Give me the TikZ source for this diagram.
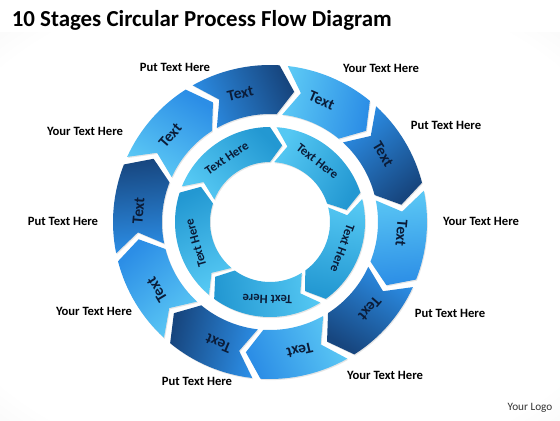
\documentclass[tikz,border=0pt]{standalone}
\usepackage{fontspec}
\setmainfont{Carlito}
\usetikzlibrary{shadows}

\definecolor{navy}{HTML}{0B1C38}
\definecolor{dblue}{HTML}{17467F}
\definecolor{mblue}{HTML}{2C8EE6}
\definecolor{lblue}{HTML}{5CC9F5}
\definecolor{cyan_a}{HTML}{2398D2}
\definecolor{cyan_b}{HTML}{55C8F3}

\pgfdeclareradialshading{back_shade}{\pgfpoint{0cm}{0cm}}{color(0bp)=(white); color(32bp)=(white); color(50bp)=(black!9); color(72bp)=(black!12)}

% one arrow piece of a ring: centre angle, half span, inner r, outer r, tip, style
\newcommand{\ringpiece}[6]{%
  \pgfmathsetmacro{\pa}{#1+#2}
  \pgfmathsetmacro{\pb}{#1-#2}
  \pgfmathsetmacro{\ptip}{#1-#2-#5}
  \pgfmathsetmacro{\pnotch}{#1+#2-#5}
  \pgfmathsetmacro{\pmid}{(#3+#4)/2}
  \pgfmathsetmacro{\pshade}{#1-170}
  \shade[#6, shading angle=\pshade] (\pa:#4) arc[start angle=\pa, end angle=\pb, radius=#4]
    -- (\ptip:\pmid) -- (\pb:#3) arc[start angle=\pb, end angle=\pa, radius=#3]
    -- (\pnotch:\pmid) -- cycle;
}

\begin{document}
\begin{tikzpicture}[
  seg_dark/.style={top color=dblue, bottom color=mblue, drop shadow={opacity=0.2, shadow xshift=0.6pt, shadow yshift=-0.8pt}},
  seg_light/.style={top color=mblue, bottom color=lblue, drop shadow={opacity=0.2, shadow xshift=0.6pt, shadow yshift=-0.8pt}},
  seg_inner/.style={top color=cyan_a, bottom color=cyan_b, drop shadow={opacity=0.2, shadow xshift=0.6pt, shadow yshift=-0.8pt}},
  step_text/.style={text=navy, font=\bfseries\fontsize{11}{13}\selectfont, inner sep=0pt},
  inner_text/.style={text=navy, font=\bfseries\fontsize{9}{11}\selectfont, inner sep=0pt},
  label_text/.style={text=black, font=\bfseries\fontsize{9}{11}\selectfont, inner sep=1pt}]

  \useasboundingbox (0,0) rectangle (14,10.5);
  \fill[white] (0,0) rectangle (14,10.5);
  \shade[shading=back_shade] (0,0) rectangle (14,9.68);

  \node[anchor=base west, font=\bfseries\fontsize{16.3}{19}\selectfont] (title) at (0.17,9.83) {10 Stages Circular Process Flow Diagram};

  \begin{scope}[shift={(6.75,4.95)}]
    % outer ring
    \ringpiece{103}{16.5}{2.7}{3.925}{7}{seg_dark}
    \ringpiece{67}{16.5}{2.7}{3.925}{7}{seg_light}
    \ringpiece{31}{16.5}{2.7}{3.925}{7}{seg_dark}
    \ringpiece{-5}{16.5}{2.7}{3.925}{7}{seg_light}
    \ringpiece{-41}{16.5}{2.7}{3.925}{7}{seg_dark}
    \ringpiece{-77}{16.5}{2.7}{3.925}{7}{seg_light}
    \ringpiece{-113}{16.5}{2.7}{3.925}{7}{seg_dark}
    \ringpiece{-149}{16.5}{2.7}{3.925}{7}{seg_light}
    \ringpiece{175}{16.5}{2.7}{3.925}{7}{seg_dark}
    \ringpiece{139}{16.5}{2.7}{3.925}{7}{seg_light}

    % inner ring
    \ringpiece{124}{34}{1.5}{2.375}{9}{seg_inner}
    \ringpiece{52}{34}{1.5}{2.375}{9}{seg_inner}
    \ringpiece{-20}{34}{1.5}{2.375}{9}{seg_inner}
    \ringpiece{-92}{34}{1.5}{2.375}{9}{seg_inner}
    \ringpiece{-164}{34}{1.5}{2.375}{9}{seg_inner}

    \node[step_text, rotate=13] (s1) at (103:3.3) {Text};
    \node[step_text, rotate=-23] (s2) at (67:3.3) {Text};
    \node[step_text, rotate=-59] (s3) at (31:3.3) {Text};
    \node[step_text, rotate=-95] (s4) at (-5:3.3) {Text};
    \node[step_text, rotate=-131] (s5) at (-41:3.3) {Text};
    \node[step_text, rotate=-167] (s6) at (-77:3.3) {Text};
    \node[step_text, rotate=-203] (s7) at (-113:3.3) {Text};
    \node[step_text, rotate=-239] (s8) at (-149:3.3) {Text};
    \node[step_text, rotate=85] (s9) at (175:3.3) {Text};
    \node[step_text, rotate=49] (s10) at (139:3.3) {Text};

    \node[inner_text, rotate=34] (h1) at (124:1.93) {Text Here};
    \node[inner_text, rotate=-38] (h2) at (52:1.93) {Text Here};
    \node[inner_text, rotate=-110] (h3) at (-20:1.93) {Text Here};
    \node[inner_text, rotate=-182] (h4) at (-92:1.93) {Text Here};
    \node[inner_text, rotate=-254] (h5) at (-164:1.93) {Text Here};
  \end{scope}

  \node[label_text] (l1) at (4.375,8.825) {Put Text Here};
  \node[label_text] (l2) at (9.525,8.8) {Your Text Here};
  \node[label_text] (l3) at (11.15,7.375) {Put Text Here};
  \node[label_text] (l4) at (12.025,4.975) {Your Text Here};
  \node[label_text] (l5) at (11.25,2.675) {Put Text Here};
  \node[label_text] (l6) at (9.625,1.125) {Your Text Here};
  \node[label_text] (l7) at (4.925,0.975) {Put Text Here};
  \node[label_text] (l8) at (2.35,2.725) {Your Text Here};
  \node[label_text] (l9) at (1.575,4.975) {Put Text Here};
  \node[label_text] (l10) at (2.125,7.225) {Your Text Here};

  \node[text=black!80, font=\fontsize{8}{10}\selectfont] (logo) at (13.25,0.3) {Your Logo};
\end{tikzpicture}
\end{document}
